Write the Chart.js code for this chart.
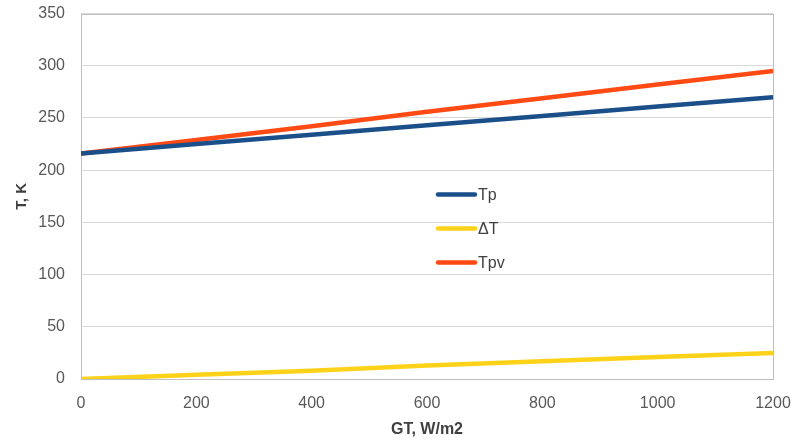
<!DOCTYPE html>
<html>
<head>
<meta charset="utf-8">
<script src="https://cdn.jsdelivr.net/npm/chart.js@4.4.1/dist/chart.umd.min.js"></script>
<style>
  html, body { margin: 0; padding: 0; background: #ffffff; }
  #wrap { width: 793px; height: 443px; position: relative; }
</style>
</head>
<body>
<div id="wrap"><canvas id="chart" width="793" height="443"></canvas></div>
<script>
// Irradiance GT (W/m2) and temperatures (K)
const gt = [0, 200, 400, 600, 800, 1000, 1200];
const tp = [216, 225, 234, 243, 252, 261, 270];
const deltaT = [0, 4, 8, 13, 17, 21, 25];
const tpv = [216, 229, 242, 256, 269, 282, 295];
const seriesNames = ['Tp', 'ΔT', 'Tpv'];
const yTicks = [0, 50, 100, 150, 200, 250, 300, 350];
const xTicks = [0, 200, 400, 600, 800, 1000, 1200];

const colors = ['#1B4F8A', '#FFD21A', '#FF4A14'];
const FONT = "'Liberation Sans', Arial, sans-serif";

const toPoints = vals => gt.map((x, i) => ({ x: x, y: vals[i] }));

// Legend drawn inside the plot area, stacked vertically
const innerLegend = {
  id: 'innerLegend',
  afterDatasetsDraw(chart) {
    const ctx = chart.ctx;
    const a = chart.chartArea;
    const x0 = a.left + 357;
    const rows = [a.top + 181, a.top + 215, a.top + 249];
    ctx.save();
    chart.data.datasets.forEach((ds, i) => {
      const y = rows[i];
      ctx.strokeStyle = ds.borderColor;
      ctx.lineWidth = 4.5;
      ctx.lineCap = 'round';
      ctx.beginPath();
      ctx.moveTo(x0, y);
      ctx.lineTo(x0 + 37, y);
      ctx.stroke();
      ctx.fillStyle = '#404040';
      ctx.font = '16px ' + FONT;
      ctx.textBaseline = 'middle';
      ctx.textAlign = 'left';
      ctx.fillText(ds.label, x0 + 40, y + 1);
    });
    ctx.restore();
  }
};

// Grey frame around the plot area
const plotFrame = {
  id: 'plotFrame',
  beforeDatasetsDraw(chart) {
    const a = chart.chartArea;
    const ctx = chart.ctx;
    ctx.save();
    ctx.strokeStyle = '#BFBFBF';
    ctx.lineWidth = 1;
    ctx.strokeRect(Math.round(a.left) + 0.5, Math.round(a.top) + 0.5,
                   Math.round(a.right - a.left), Math.round(a.bottom - a.top));
    ctx.restore();
  }
};

new Chart(document.getElementById('chart'), {
  type: 'line',
  data: {
    datasets: [
      { label: seriesNames[0], data: toPoints(tp), borderColor: colors[0] },
      { label: seriesNames[1], data: toPoints(deltaT), borderColor: colors[1] },
      { label: seriesNames[2], data: toPoints(tpv), borderColor: colors[2] }
    ].map(d => Object.assign(d, { borderWidth: 4.5, pointRadius: 0, tension: 0, fill: false }))
  },
  options: {
    responsive: false,
    animation: false,
    layout: { padding: { top: 0, right: 0, left: 9, bottom: 0 } },
    plugins: { legend: { display: false }, tooltip: { enabled: false } },
    scales: {
      x: {
        type: 'linear',
        min: 0, max: 1200,
        afterBuildTicks: s => { s.ticks = xTicks.map(v => ({ value: v })); },
        grid: { display: false },
        border: { display: false },
        ticks: { color: '#595959', font: { family: FONT, size: 16 }, padding: 7, maxRotation: 0,
                 callback: v => String(v) },
        title: { display: true, text: 'GT, W/m2', color: '#404040', font: { family: FONT, size: 16, weight: 'bold' }, padding: { top: 13 } },
        afterFit: s => { s.height = 64; s.paddingRight = 20; }
      },
      y: {
        min: 0, max: 350,
        afterBuildTicks: s => { s.ticks = yTicks.map(v => ({ value: v })); },
        grid: { color: '#D9D9D9', lineWidth: 1, drawTicks: true, tickLength: 12, tickColor: 'rgba(0,0,0,0)' },
        border: { display: false },
        ticks: { color: '#595959', font: { family: FONT, size: 16 }, padding: 4 },
        title: { display: true, text: 'T, K', color: '#404040', font: { family: FONT, size: 15, weight: 'bold' }, padding: { bottom: 4 } },
        afterFit: s => { s.width = 72; }
      }
    }
  },
  plugins: [plotFrame, innerLegend]
});
</script>
</body>
</html>
